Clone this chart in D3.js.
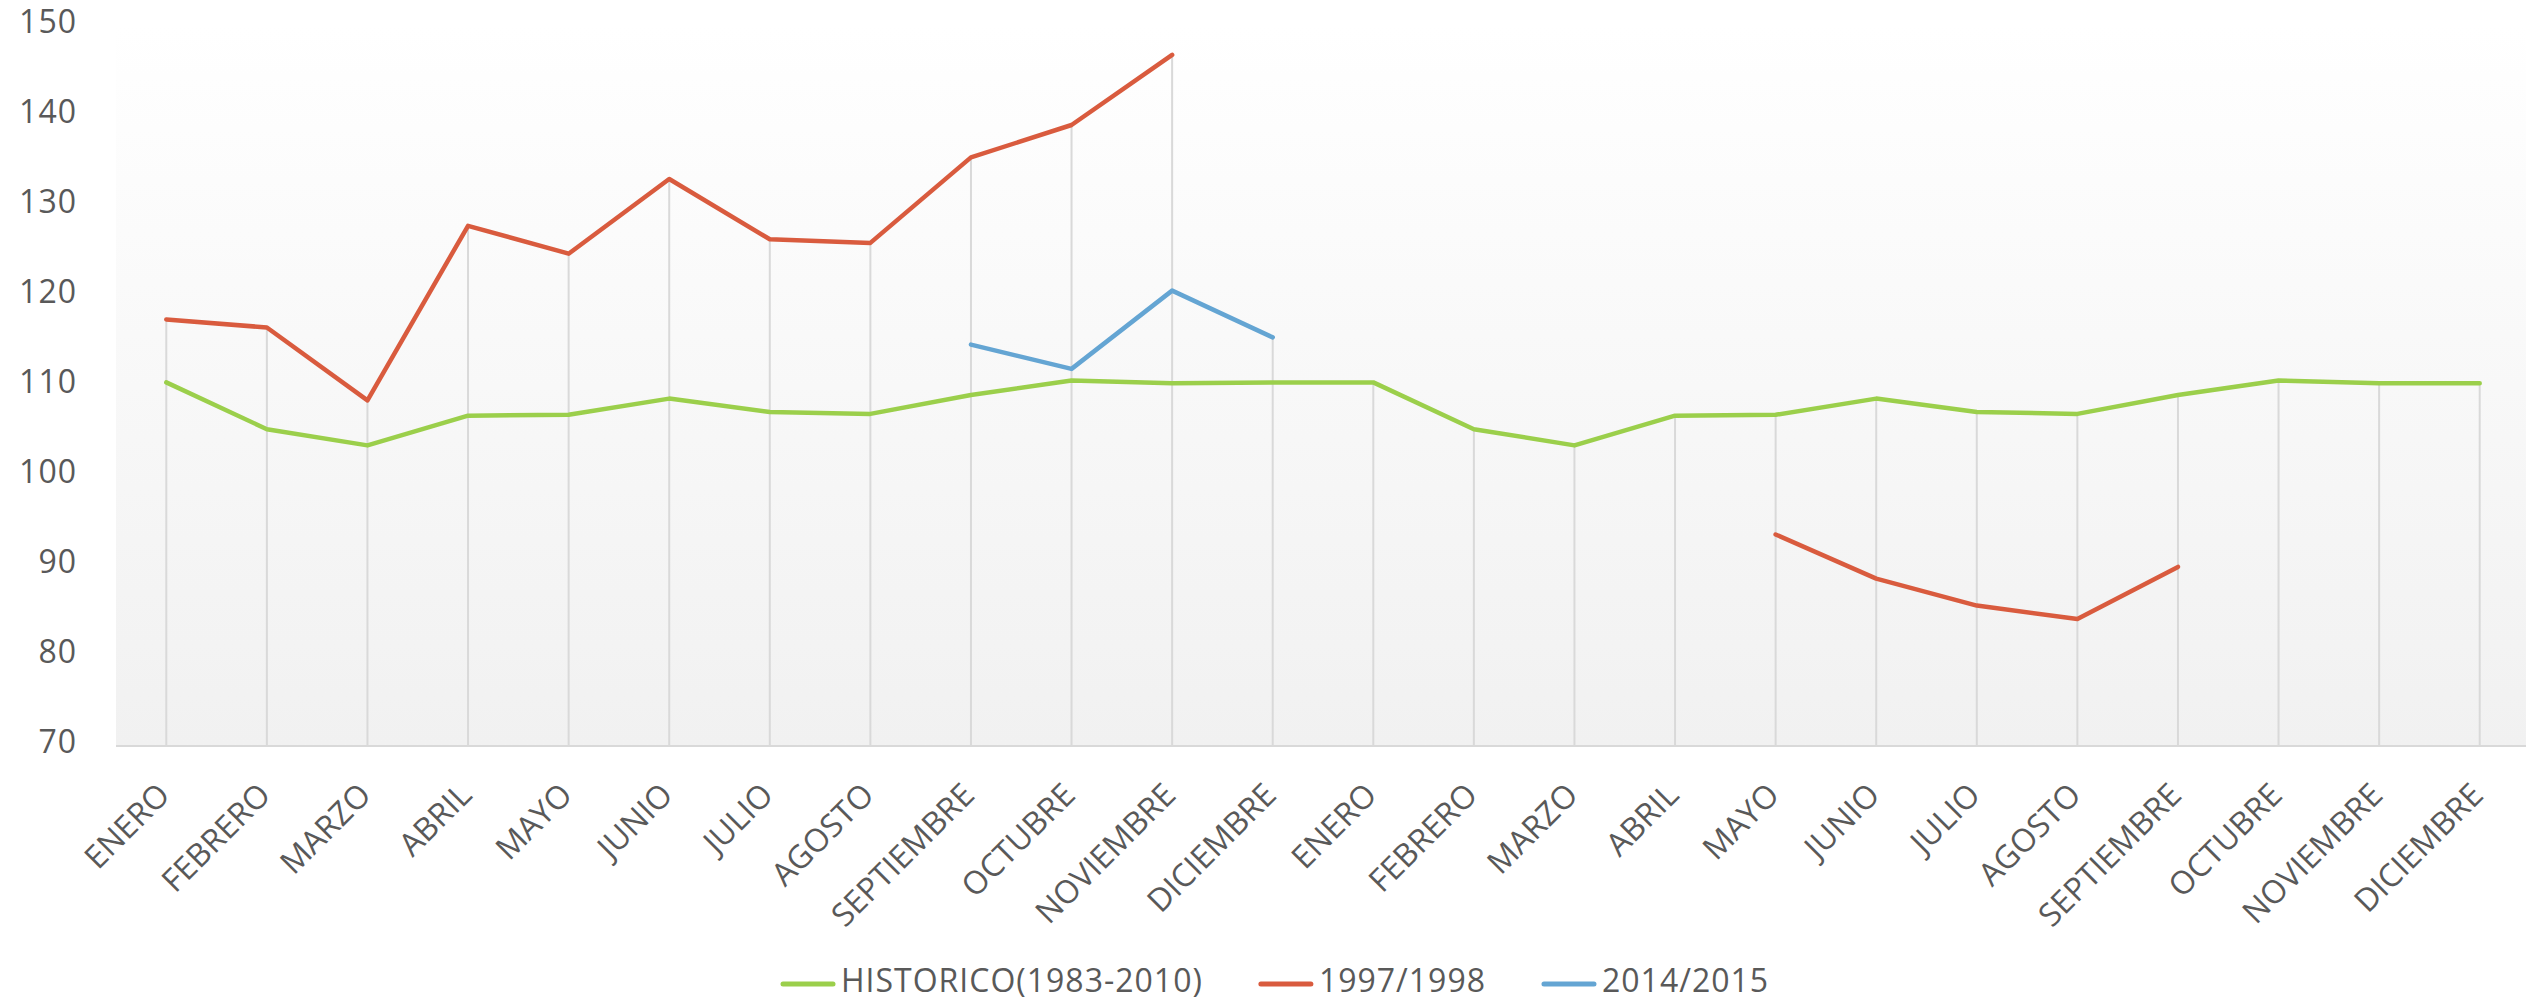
<!DOCTYPE html>
<html>
<head>
<meta charset="utf-8">
<script src="https://cdn.jsdelivr.net/npm/d3@7"></script>
<style>
    html, body { margin: 0; padding: 0; background: #ffffff; }
    svg { display: block; }
    text { font-family: "Open Sans", "DejaVu Sans", sans-serif; fill: #595959; }
</style>
</head>
<body>
<div id="container"></div>
<script>

// categorias: dos años seguidos de meses
var meses = ["ENERO", "FEBRERO", "MARZO", "ABRIL", "MAYO", "JUNIO", "JULIO", "AGOSTO",
    "SEPTIEMBRE", "OCTUBRE", "NOVIEMBRE", "DICIEMBRE"];
var categorias = meses.concat(meses);

var historico = [110.4, 105.2, 103.4, 106.7, 106.8, 108.6, 107.1, 106.9, 109.0, 110.6, 110.3, 110.4,
    110.4, 105.2, 103.4, 106.7, 106.8, 108.6, 107.1, 106.9, 109.0, 110.6, 110.3, 110.3];

var nino9798 = [117.4, 116.5, 108.4, 127.8, 124.7, 133.0, 126.3, 125.9, 135.4, 139.0, 146.8, null,
    null, null, null, null, 93.5, 88.6, 85.6, 84.1, 89.9, null, null, null];

var nino1415 = [null, null, null, null, null, null, null, null, 114.6, 111.9, 120.6, 115.4,
    null, null, null, null, null, null, null, null, null, null, null, null];

var yTicks = [70, 80, 90, 100, 110, 120, 130, 140, 150];

var series = [
    { name: "HISTORICO(1983-2010)", values: historico, color: "#9bcf4b" },
    { name: "1997/1998", values: nino9798, color: "#d95b3e" },
    { name: "2014/2015", values: nino1415, color: "#64a5d3" }
];

const width = 2526,
    height = 1001,
    margin = { top: 26, right: -4, bottom: 255, left: 116 };

var svg = d3.select("#container")
    .append("svg")
    .attr("width", width)
    .attr("height", height);

var x = d3.scalePoint()
    .domain(d3.range(categorias.length))
    .range([margin.left, width - margin.right])
    .padding(0.5);

var y = d3.scaleLinear()
    .domain([70, 150])
    .range([height - margin.bottom, margin.top]);

// fondo del area de trazado con degradado
var grad = svg.append("defs").append("linearGradient")
    .attr("id", "fondo")
    .attr("x1", 0).attr("y1", 0)
    .attr("x2", 0).attr("y2", 1);
grad.append("stop").attr("offset", "0%").attr("stop-color", "#ffffff");
grad.append("stop").attr("offset", "100%").attr("stop-color", "#f1f1f1");

svg.append("rect")
    .attr("x", margin.left)
    .attr("y", y(150))
    .attr("width", width - margin.right - margin.left)
    .attr("height", y(70) - y(150))
    .attr("fill", "url(#fondo)");

// lineas de caida desde el valor mas alto hasta el eje
var maximos = categorias.map(function (c, i)
{
    return d3.max(series, function (s) { return s.values[i]; });
});

svg.append("g")
    .selectAll("line")
    .data(maximos)
    .enter()
    .append("line")
    .attr("x1", function (d, i) { return x(i); })
    .attr("x2", function (d, i) { return x(i); })
    .attr("y1", function (d) { return y(d); })
    .attr("y2", y(70))
    .attr("stroke", "#d9d9d9")
    .attr("stroke-width", 2);

// eje X
var xAxis = svg.append("g")
    .attr("transform", "translate(0," + y(70) + ")")
    .call(d3.axisBottom(x).tickSize(0).tickFormat(function (i) { return categorias[i]; }));

xAxis.select(".domain")
    .attr("d", "M" + margin.left + ",0H" + (width - margin.right))
    .attr("stroke", "#d9d9d9")
    .attr("stroke-width", 2);

xAxis.selectAll(".tick text")
    .attr("font-size", 32)
    .attr("text-anchor", "end")
    .attr("x", 0)
    .attr("y", 0)
    .attr("dy", "0.35em")
    .attr("transform", "translate(-3,43) rotate(-45)");

// eje Y
var yAxis = svg.append("g")
    .attr("transform", "translate(" + 77 + ",0)")
    .call(d3.axisLeft(y).tickValues(yTicks).tickSize(0).tickPadding(0));

yAxis.select(".domain").remove();
yAxis.selectAll(".tick text")
    .attr("font-size", 32)
    .attr("letter-spacing", 1)
    .attr("dy", "0.2em");

// series
var line = d3.line()
    .defined(function (d) { return d != null; })
    .x(function (d, i) { return x(i); })
    .y(function (d) { return y(d); });

svg.append("g")
    .selectAll("path")
    .data(series)
    .enter()
    .append("path")
    .attr("fill", "none")
    .attr("stroke", function (d) { return d.color; })
    .attr("stroke-width", 4.5)
    .attr("stroke-linejoin", "round")
    .attr("stroke-linecap", "round")
    .attr("d", function (d) { return line(d.values); });

// leyenda
var legend = svg.append("g")
    .attr("transform", "translate(781,984)");

var posX = 0;
series.forEach(function (s)
{
    legend.append("line")
        .attr("x1", posX + 2)
        .attr("x2", posX + 52)
        .attr("y1", 0)
        .attr("y2", 0)
        .attr("stroke", s.color)
        .attr("stroke-width", 5)
        .attr("stroke-linecap", "round");

    var t = legend.append("text")
        .attr("x", posX + 60)
        .attr("y", 8)
        .attr("font-size", 32)
        .attr("letter-spacing", 1)
        .text(s.name);

    posX += 60 + t.node().getComputedTextLength() + 56;
});

</script>
</body>
</html>
